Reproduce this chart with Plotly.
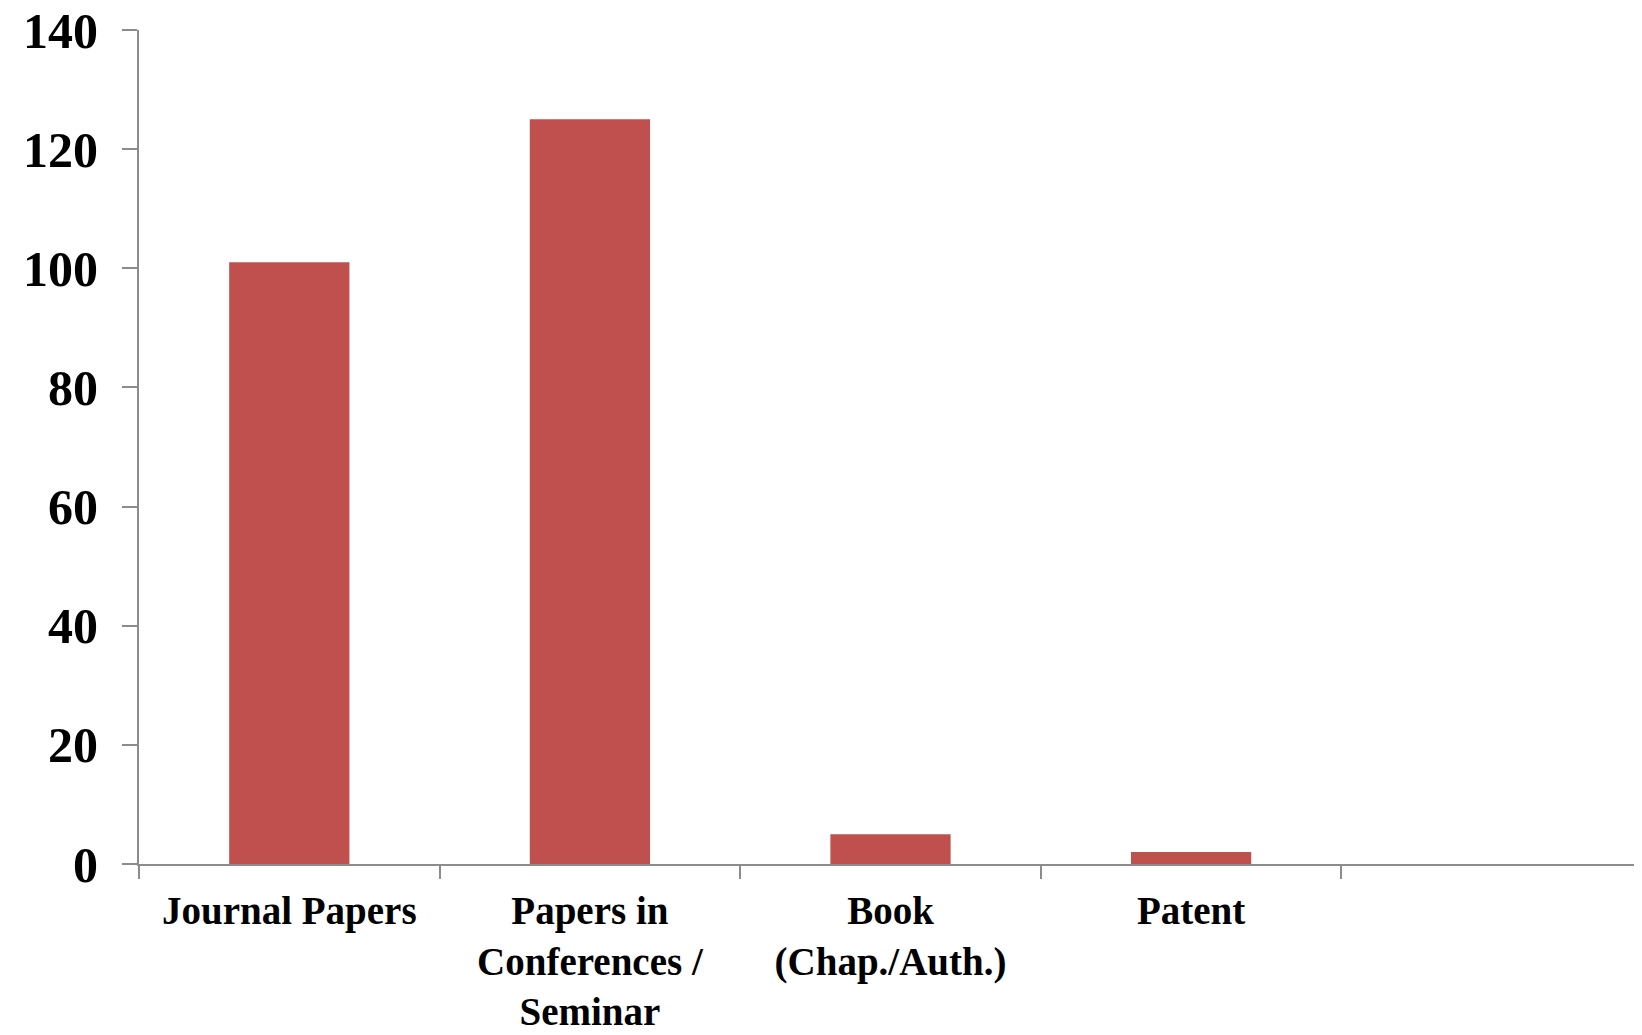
import plotly.graph_objects as go

categories = ["Journal Papers", "Papers in<br>Conferences /<br>Seminar", "Book<br>(Chap./Auth.)", "Patent", " "]
values = [101, 125, 5, 2, None]
y_ticks = [0, 20, 40, 60, 80, 100, 120, 140]

fig = go.Figure(go.Bar(x=categories, y=values, marker=dict(color="#C0504D", line=dict(width=0)), width=0.4))

font_family = "Liberation Serif"
fig.update_layout(
    width=1634, height=1027,
    margin=dict(l=131, r=0, t=22, b=171, autoexpand=False),
    paper_bgcolor="white", plot_bgcolor="white",
    showlegend=False, bargap=0.6,
)
fig.update_xaxes(
    type="category", categoryorder="array", categoryarray=categories,
    range=[-0.5, 4.5], automargin=False,
    showline=True, linecolor="#8c8c8c", linewidth=2,
    ticks="outside", tickson="boundaries", ticklen=13, tickcolor="#8c8c8c", tickwidth=1.5,
    tickfont=dict(family=font_family, size=39, color="black", weight="bold"),
    ticklabelstandoff=11, showgrid=False, zeroline=False,
    ticklabeloverflow="allow",
)
fig.update_yaxes(
    range=[0, 140], tickvals=y_ticks, automargin=False,
    showline=True, linecolor="#8c8c8c", linewidth=2,
    ticks="outside", ticklen=15, tickcolor="#8c8c8c", tickwidth=1.5,
    tickfont=dict(family=font_family, size=50, color="black", weight="bold"),
    ticklabelstandoff=14, showgrid=False, zeroline=False,
    ticklabeloverflow="allow",
)
fig.write_html("out.html")
